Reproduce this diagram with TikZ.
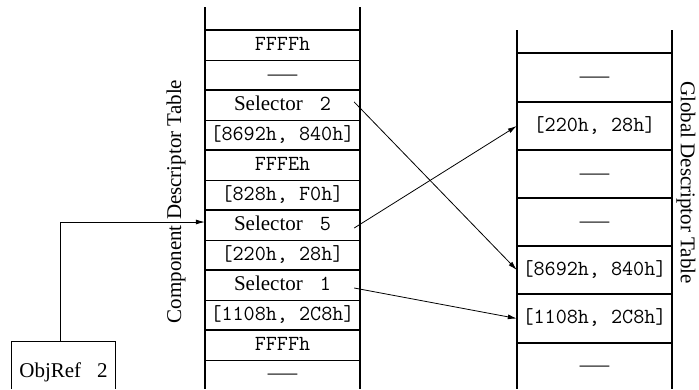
\documentclass[tikz,border=0pt]{standalone}
\usepackage{fontspec}
\setmainfont{Liberation Serif}
\setmonofont{Latin Modern Mono}
\usetikzlibrary{arrows.meta}
\newcommand{\dashsym}{\scalebox{1.4}[1]{—}}
\begin{document}
\begin{tikzpicture}[x=1pt,y=-1pt,
  serif/.style={font=\fontsize{21}{24}\selectfont},
  mono/.style={font=\fontsize{21.5}{24}\ttfamily},
  lcell/.style={inner sep=0pt, minimum width=155pt, minimum height=30pt, text height=14pt, text depth=4pt},
  rcell/.style={inner sep=0pt, minimum width=155pt, minimum height=48pt, text height=14pt, text depth=4pt},
  thickline/.style={line width=2pt},
  thinline/.style={line width=1pt},
  arr/.style={line width=0.8pt, -{Latex[length=9pt,width=5pt]}}]
\useasboundingbox (0,0) rectangle (699,389);

% left table frame
\draw[thickline] (205,7) -- (205,389);
\draw[thickline] (360,7) -- (360,389);
\foreach \yy in {30,90,150,210,270,330} \draw[thickline] (205,\yy) -- (360,\yy);
\foreach \yy in {60,120,180,240,300,360} \draw[thinline] (205,\yy) -- (360,\yy);

% right table frame
\draw[thickline] (517,30) -- (517,389);
\draw[thickline] (672,30) -- (672,389);
\foreach \yy in {53,102,150,198,246,294,343} \draw[thickline] (517,\yy) -- (672,\yy);

% left table cells
\node[lcell,mono] (L1) at (282.5,45) {FFFFh};
\node[lcell,serif] (L2) at (282.5,75) {\dashsym};
\node[lcell,serif] (L3) at (282.5,105) {Selector\hspace{17pt}{\fontsize{21.5}{24}\ttfamily 2}\hspace{8pt}};
\node[lcell,mono] (L4) at (282.5,135) {[8692h, 840h]};
\node[lcell,mono] (L5) at (282.5,165) {FFFEh};
\node[lcell,mono] (L6) at (282.5,195) {[828h, F0h]};
\node[lcell,serif] (L7) at (282.5,225) {Selector\hspace{17pt}{\fontsize{21.5}{24}\ttfamily 5}\hspace{14pt}};
\node[lcell,mono] (L8) at (282.5,255) {[220h, 28h]};
\node[lcell,serif] (L9) at (282.5,285) {Selector\hspace{17pt}{\fontsize{21.5}{24}\ttfamily 1}\hspace{14pt}};
\node[lcell,mono] (L10) at (282.5,315) {[1108h, 2C8h]};
\node[lcell,mono] (L11) at (282.5,345) {FFFFh};
\node[lcell,serif] (L12) at (282.5,374.5) {\dashsym};

% right table cells
\node[rcell,serif] (R1) at (594.5,77.5) {\dashsym};
\node[rcell,mono] (R2) at (594.5,126) {[220h, 28h]};
\node[rcell,serif] (R3) at (594.5,174) {\dashsym};
\node[rcell,serif] (R4) at (594.5,222) {\dashsym};
\node[rcell,mono] (R5) at (594.5,270) {[8692h, 840h]};
\node[rcell,mono] (R6) at (594.5,318.5) {[1108h, 2C8h]};
\node[rcell,serif] (R7) at (594.5,366) {\dashsym};

% labels
\node[serif,rotate=90,inner sep=0pt] (cdt) at (176,201.5) {Component Descriptor Table};
\node[serif,rotate=-90,inner sep=0pt] (gdt) at (686,182.5) {Global Descriptor Table};

% ObjRef box
\node[serif,inner sep=0pt,minimum width=103pt,minimum height=60pt,text height=14pt,text depth=4pt] (obj) at (63.5,372) {ObjRef\hspace{16pt}2};
\draw[thinline] ([yshift=13pt]obj.south west) -- (obj.north west) -- (obj.north east) -- ([yshift=13pt]obj.south east);

% connectors
\draw[arr] ([xshift=-3.5pt]obj.north) |- ([yshift=3pt]L7.west);
\draw[arr] ([xshift=-6pt,yshift=3pt]L3.east) -- (R5.west);
\draw[arr] ([xshift=-6pt,yshift=-3pt]L7.east) -- (R2.west);
\draw[arr] ([xshift=-6pt,yshift=-3pt]L9.east) -- (R6.west);
\end{tikzpicture}
\end{document}
